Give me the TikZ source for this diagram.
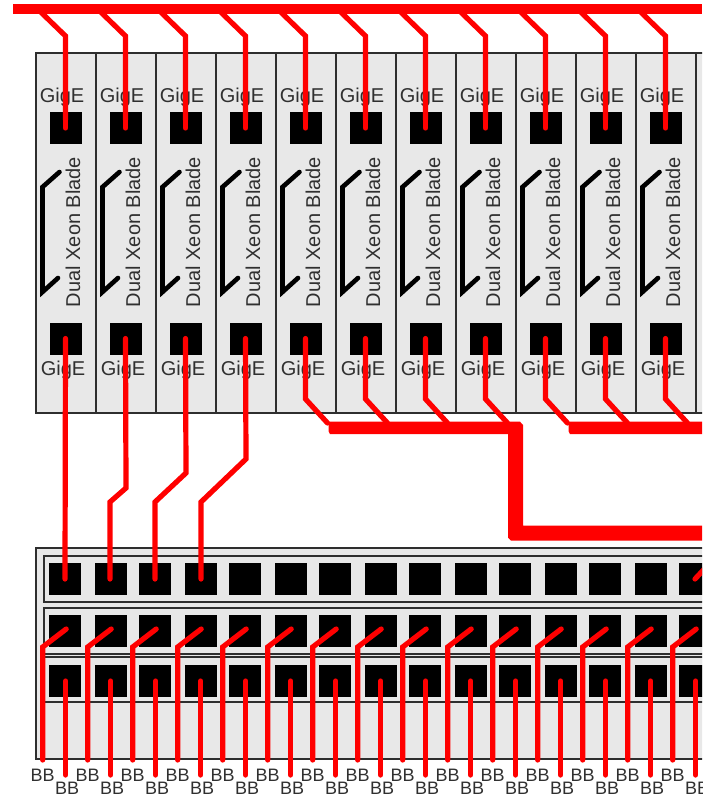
\documentclass[tikz,border=0pt]{standalone}
\usepackage{fontspec}
\setmainfont{Liberation Sans}
\definecolor{panel}{HTML}{E8E8E8}
\definecolor{edge}{HTML}{2E2E2E}
\definecolor{ink}{HTML}{303030}
\tikzset{
  panelbox/.style={draw=edge,fill=panel,line width=1.8pt,inner sep=0pt,outer sep=0pt},
  port/.style={fill=black,draw=none,minimum width=32pt,minimum height=32pt,inner sep=0pt,outer sep=0pt},
  wire/.style={draw=red,line width=5.2pt,line cap=round,line join=miter},
  busline/.style={draw=red,line cap=butt},
  busfill/.style={fill=red,draw=none},
  bracket/.style={draw=black,line width=4.6pt,line cap=round,line join=miter},
  gige/.style={text=ink,inner sep=0pt,anchor=base,font=\fontsize{20}{24}\selectfont},
  bladetext/.style={text=ink,inner sep=0pt,anchor=base,rotate=90,font=\fontsize{20}{24}\selectfont},
  bbtext/.style={text=ink,inner sep=0pt,anchor=base,font=\fontsize{18}{22}\selectfont},
}
\begin{document}
\begin{tikzpicture}[x=1pt,y=-1pt]
\useasboundingbox (0,0) rectangle (703,798);
\fill[white] (0,0) rectangle (703,798);
\begin{scope}
\clip (0,0) rectangle (702,798);
% blades
\node[panelbox,minimum width=60pt,minimum height=360pt] (blade11) at (726,233) {};
\foreach \i in {0,...,10}{
  \pgfmathsetmacro{\xo}{60*\i}
  \begin{scope}[xshift=\xo pt]
    \node[panelbox,minimum width=60pt,minimum height=360pt] (blade\i) at (66,233) {};
    \draw[bracket] (59.5,172) -- (42.5,187) -- (42.5,292) -- (58,278);
    \node[gige] (gt\i) at (62,102) {GigE};
    \node[gige] (gb\i) at (63,375) {GigE};
    \node[bladetext] (bt\i) at (80,232) {Dual Xeon Blade};
    \node[port] (pt\i) at (65.5,128) {};
    \node[port] (pb\i) at (65.5,338.5) {};
  \end{scope}
}
% switch
\node[panelbox,minimum width=724pt,minimum height=211pt] (sw) at (398,653.5) {};
\node[panelbox,minimum width=716pt,minimum height=46pt] (r1) at (402,579) {};
\node[panelbox,minimum width=716pt,minimum height=46pt] (r2) at (402,631) {};
\node[panelbox,minimum width=716pt,minimum height=45pt] (r3) at (402,679.5) {};
\foreach \i in {0,...,14}{
  \pgfmathsetmacro{\cx}{65+45*\i+mod(\i,2)}
  \node[port] (s\i) at (\cx,579) {};
  \node[port] (m\i) at (\cx,631) {};
  \node[port] (l\i) at (\cx,681) {};
  \pgfmathsetmacro{\ux}{42.7+45*\i}
  \pgfmathsetmacro{\lx}{65.7+45*\i}
  \node[bbtext] (ua\i) at (\ux,781) {BB};
  \node[bbtext] (lo\i) at (\lx+1.5,794) {BB};
}
% wires from the switch to the BB labels
\foreach \i in {0,...,14}{
  \pgfmathsetmacro{\ux}{42.7+45*\i}
  \pgfmathsetmacro{\tx}{66.2+45*\i}
  \pgfmathsetmacro{\lx}{65.7+45*\i}
  \pgfmathsetmacro{\cx}{65+45*\i+mod(\i,2)}
  \pgfmathsetmacro{\dt}{\tx-\cx}
  \pgfmathsetmacro{\dl}{\lx-\cx}
  \draw[wire] ([xshift=\dt pt,yshift=2pt]m\i.center) -- (\ux,647) -- ([yshift=21pt]ua\i.base);
  \draw[wire] ([xshift=\dl pt]l\i.center) -- ([xshift=-1.5pt,yshift=19pt]lo\i.base);
}
% upper bus and its branches
\coordinate (topL) at (13,9);
\coordinate (topR) at (702,9);
\draw[busline,line width=10pt] (topL) -- (topR);
\foreach \i in {0,...,10}{
  \pgfmathsetmacro{\ax}{40.7+60*\i}
  \pgfmathsetmacro{\bx}{65.5+60*\i}
  \draw[wire,line cap=butt] (\ax,12) -- (\bx,36) -- (\bx,120);
  \draw[wire] (\bx,36) -- (pt\i.center);
}
% blade-to-switch links
\draw[wire] (pb0.center) -- (s0.center);
\draw[wire] (pb1.center) -- (126,488) -- (110,502) -- ([xshift=-1pt]s1.center);
\draw[wire] (pb2.center) -- (186,473) -- (155,502) -- (s2.center);
\draw[wire] (pb3.center) -- (246,459) -- (201,502) -- (s3.center);
\draw[wire] (s14.center) -- (723,549);
% blade-to-lower-bus links
\foreach \i in {4,...,10}{
  \pgfmathsetmacro{\bx}{65.5+60*\i}
  \draw[wire] (pb\i.center) -- (\bx,399) -- (\bx+22,423);
}
% thick lower buses
\fill[busfill] (328.5,421.7) -- (520,421.7) -- (523,425) -- (523,525.7) -- (702,525.7)
  -- (702,540.5) -- (511,540.5) -- (508,537.5) -- (508,434.2) -- (330,434.2) -- (328.5,431) -- cycle;
\fill[busfill] (570,421.7) -- (702,421.7) -- (702,434.2) -- (570,434.2) -- (568.5,431) -- (568.5,424) -- cycle;
\end{scope}
\end{tikzpicture}
\end{document}
